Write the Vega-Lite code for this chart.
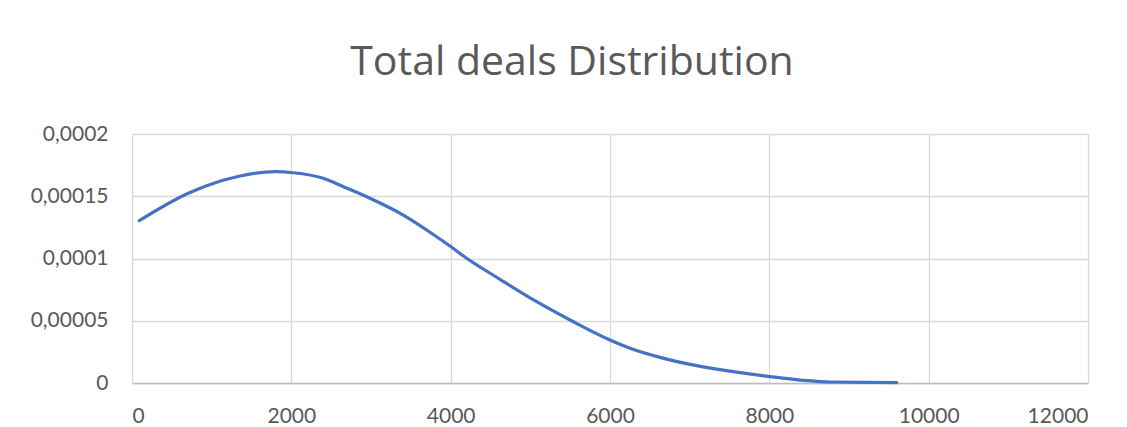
{
  "$schema": "https://vega.github.io/schema/vega-lite/v6.json",
  "width": 956,
  "height": 249,
  "autosize": "none",
  "padding": {"left": 132, "top": 134, "right": 39, "bottom": 44},
  "background": "white",
  "title": {
    "text": "Total deals Distribution",
    "font": "Open Sans",
    "fontSize": 41,
    "fontWeight": "normal",
    "color": "#595959",
    "anchor": "middle",
    "dx": -38,
    "offset": 39
  },
  "config": {
    "view": {"stroke": null},
    "axis": {
      "labelFont": "Lato",
      "labelFontSize": 21,
      "labelColor": "#595959",
      "gridColor": "#d9d9d9",
      "gridWidth": 1.3,
      "ticks": false,
      "domain": false
    }
  },
  "data": {
    "values": [
      {"x": 92, "y": 0.0001304},
      {"x": 686, "y": 0.0001518},
      {"x": 937, "y": 0.0001585},
      {"x": 1356, "y": 0.0001663},
      {"x": 1795, "y": 0.0001697},
      {"x": 2025, "y": 0.0001689},
      {"x": 2402, "y": 0.0001644},
      {"x": 2653, "y": 0.0001577},
      {"x": 2987, "y": 0.0001484},
      {"x": 3405, "y": 0.0001349},
      {"x": 3824, "y": 0.0001175},
      {"x": 3991, "y": 0.00011},
      {"x": 4201, "y": 0.0001002},
      {"x": 4619, "y": 0.0000833},
      {"x": 5080, "y": 0.0000653},
      {"x": 5540, "y": 0.0000492},
      {"x": 6000, "y": 0.0000345},
      {"x": 6251, "y": 0.0000279},
      {"x": 6627, "y": 0.0000206},
      {"x": 7088, "y": 0.0000139},
      {"x": 7548, "y": 0.0000091},
      {"x": 8008, "y": 0.0000051},
      {"x": 8469, "y": 0.0000019},
      {"x": 8761, "y": 0.0000008},
      {"x": 9598, "y": 0.0000003}
    ]
  },
  "mark": {"type": "line", "color": "#4472C4", "strokeWidth": 3.2, "interpolate": "monotone", "strokeCap": "round"},
  "encoding": {
    "x": {
      "field": "x",
      "type": "quantitative",
      "scale": {"domain": [0, 12000], "nice": false},
      "axis": {"title": null, "values": [0, 2000, 4000, 6000, 8000, 10000, 12000], "labelPadding": 22, "domain": true, "domainColor": "#bfbfbf", "domainWidth": 1.5, "format": "d"}
    },
    "y": {
      "field": "y",
      "type": "quantitative",
      "scale": {"domain": [0, 0.0002], "nice": false},
      "axis": {"title": null, "values": [0, 0.00005, 0.0001, 0.00015, 0.0002], "labelPadding": 24, "labelExpr": "replace(format(datum.value, '~g'), '.', ',')"}
    }
  }
}
